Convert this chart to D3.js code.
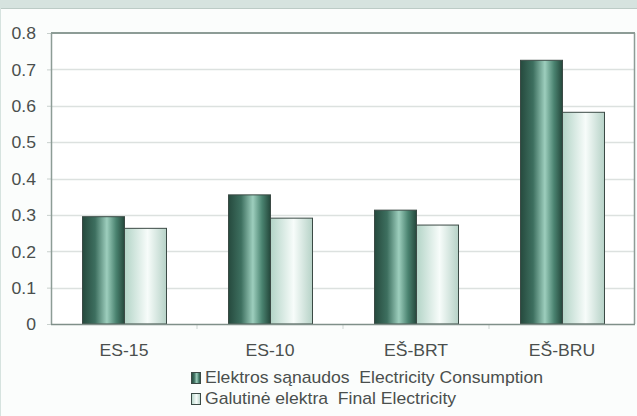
<!DOCTYPE html>
<html><head><meta charset="utf-8">
<script src="https://cdn.jsdelivr.net/npm/d3@7"></script>
<style>
html,body{margin:0;padding:0;background:#fbfdfc;}
svg{display:block;}
text{font-family:"Liberation Sans",Arial,sans-serif;fill:#4a4f4d;}
</style></head><body>
<script>
const categories = ["ES-15", "ES-10", "EŠ-BRT", "EŠ-BRU"];
const consumption = [0.295, 0.355, 0.313, 0.725];
const finalElectricity = [0.263, 0.291, 0.272, 0.582];
const seriesNames = ["Elektros sąnaudos  Electricity Consumption", "Galutinė elektra  Final Electricity"];
const yTicks = [0, 0.1, 0.2, 0.3, 0.4, 0.5, 0.6, 0.7, 0.8];

const W = 637, H = 416;
const FS = 16, SX = 1.1;
const svg = d3.select("body").append("svg").attr("width", W).attr("height", H);
const defs = svg.append("defs");

function grad(id, stops) {
  const g = defs.append("linearGradient").attr("id", id).attr("x1", "0").attr("x2", "1").attr("y1", "0").attr("y2", "0");
  stops.forEach(s => g.append("stop").attr("offset", s[0]).attr("stop-color", s[1]));
}
grad("gDark", [[0, "#264a3e"], [0.3, "#3d6f5f"], [0.58, "#9dcebd"], [0.8, "#4a8370"], [1, "#24473b"]]);
grad("gLight", [[0, "#b3d4c7"], [0.55, "#f7fcfa"], [1, "#b6d2c7"]]);

svg.append("rect").attr("x", 0).attr("y", 0).attr("width", W).attr("height", 8).attr("fill", "#d6e3df");
svg.append("line").attr("x1", 0).attr("x2", W).attr("y1", 8.5).attr("y2", 8.5).attr("stroke", "#bccbc6");
svg.append("line").attr("x1", 0.5).attr("x2", 0.5).attr("y1", 8).attr("y2", H).attr("stroke", "#d6e3df");

const pLeft = 51, pRight = 635, pTop = 33, pBottom = 324;
const x = d3.scaleBand().domain(categories).range([pLeft, pRight]).paddingInner(0).paddingOuter(0);
const y = d3.scaleLinear().domain([0, 0.8]).range([pBottom, pTop]);
const barW = 42;
const x1 = d3.scaleBand().domain([0, 1]).range([0, barW * 2]);

svg.append("rect").attr("x", pLeft).attr("y", pTop).attr("width", pRight - pLeft).attr("height", pBottom - pTop).attr("fill", "#ffffff");

svg.append("g").selectAll("line").data(yTicks.filter(d => d > 0 && d < 0.8)).join("line")
  .attr("x1", pLeft).attr("x2", pRight)
  .attr("y1", d => Math.round(y(d)) + 0.5).attr("y2", d => Math.round(y(d)) + 0.5)
  .attr("stroke", "#dce1df").attr("stroke-width", 1.4);

const yAxis = d3.axisLeft(y).tickValues(yTicks).tickFormat(d => d === 0 ? "0" : d3.format(".1f")(d)).tickSize(4).tickPadding(9);
const gy = svg.append("g").attr("transform", `translate(${pLeft},0)`).call(yAxis);
gy.select(".domain").remove();
gy.selectAll(".tick line").attr("stroke", "#c8d0cd");
gy.selectAll("text").attr("font-size", FS).style("fill", "#4a4f4d")
  .attr("transform", `scale(${SX},1)`).attr("x", -15 / SX).attr("dy", "0.36em");

const gx = svg.append("g").attr("transform", `translate(0,${pBottom})`)
  .call(d3.axisBottom(x).tickSize(0).tickPadding(0));
gx.select(".domain").remove();
gx.selectAll(".tick text").attr("font-size", FS).style("fill", "#4a4f4d")
  .attr("y", 32).attr("dy", 0).attr("x", 0).attr("transform", `scale(${SX},1)`);

svg.append("g").selectAll("line").data(categories.slice(1)).join("line")
  .attr("x1", d => x(d)).attr("x2", d => x(d)).attr("y1", pBottom).attr("y2", pBottom + 5)
  .attr("stroke", "#dde2e0").attr("stroke-width", 1.5);

const groups = svg.append("g").selectAll("g").data(categories).join("g")
  .attr("transform", d => `translate(${x(d) + x.bandwidth() / 2 - barW},0)`);
const series = [consumption, finalElectricity];
groups.each(function(cat, i) {
  const g = d3.select(this);
  series.forEach((s, k) => {
    g.append("rect")
      .attr("x", x1(k) + 0.5).attr("width", x1.bandwidth())
      .attr("y", y(s[i])).attr("height", pBottom - y(s[i]))
      .attr("fill", k === 0 ? "url(#gDark)" : "url(#gLight)")
      .attr("stroke", "#3b4a45").attr("stroke-width", 1);
  });
});

svg.append("line").attr("x1", pLeft).attr("x2", pRight).attr("y1", pTop).attr("y2", pTop).attr("stroke", "#8d9c96").attr("stroke-width", 2);
svg.append("line").attr("x1", pLeft + 0.5).attr("x2", pLeft + 0.5).attr("y1", pTop).attr("y2", pBottom).attr("stroke", "#8d9c96").attr("stroke-width", 1.5);
svg.append("line").attr("x1", pRight - 0.5).attr("x2", pRight - 0.5).attr("y1", pTop).attr("y2", pBottom).attr("stroke", "#8d9c96").attr("stroke-width", 1.5);
svg.append("line").attr("x1", pLeft).attr("x2", pRight).attr("y1", pBottom + 0.5).attr("y2", pBottom + 0.5).attr("stroke", "#7f8f89").attr("stroke-width", 1.5);

const legend = svg.append("g").attr("transform", "translate(191,370)");
seriesNames.forEach((name, k) => {
  const row = legend.append("g").attr("transform", `translate(0,${k * 21})`);
  row.append("rect").attr("x", 0.5).attr("y", 2.5).attr("width", 9).attr("height", 11)
    .attr("fill", k === 0 ? "url(#gDark)" : "url(#gLight)").attr("stroke", "#3b4a45").attr("stroke-width", 1);
  row.append("text").attr("x", 14 / SX).attr("y", 13).attr("font-size", FS)
    .attr("transform", `scale(${SX},1)`).style("white-space", "pre").text(name);
});
</script>
</body></html>
